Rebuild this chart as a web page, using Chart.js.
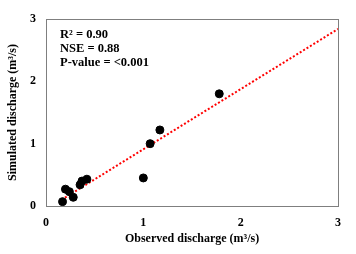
<!DOCTYPE html>
<html>
<head>
<meta charset="utf-8">
<script src="https://cdn.jsdelivr.net/npm/chart.js@4"></script>
<style>
  html, body { margin: 0; padding: 0; background: #fff; }
</style>
</head>
<body>
<canvas id="grafico" width="356" height="254"></canvas>
<script>
// observed vs simulated discharge (m3/s)
let observed = [0.17, 0.20, 0.24, 0.28, 0.35, 0.37, 0.42, 1.00, 1.07, 1.17, 1.78];
let simulated = [0.07, 0.27, 0.23, 0.14, 0.34, 0.40, 0.43, 0.45, 1.00, 1.22, 1.80];
// dotted trend line end points
let trendX = [0.16, 3.0];
let trendY = [0.10, 2.84];
let tickValues = [0, 1, 2, 3];
let stats = ['R² = 0.90', 'NSE = 0.88', 'P-value = <0.001'];

const serif = "'Liberation Serif', 'Times New Roman', serif";

const frame = {
  id: 'frame',
  afterDraw(chart) {
    const c = chart.ctx, a = chart.chartArea;
    c.save();
    c.strokeStyle = '#7f7f7f';
    c.lineWidth = 1;
    c.strokeRect(Math.round(a.left) + 0.5, Math.round(a.top) + 0.5,
      Math.round(a.right - a.left), Math.round(a.bottom - a.top));
    c.fillStyle = '#000';
    c.font = 'bold 12.5px ' + serif;
    c.textBaseline = 'middle';
    stats.forEach((s, i) => c.fillText(s, a.left + 14, a.top + 16 + i * 14));
    c.restore();
  }
};

const ctx = document.getElementById('grafico');
new Chart(ctx, {
  type: 'scatter',
  data: {
    datasets: [{
      data: observed.map((x, i) => ({ x: x, y: simulated[i] })),
      backgroundColor: '#000',
      borderColor: '#000',
      pointRadius: 4,
      order: 1
    }, {
      data: trendX.map((x, i) => ({ x: x, y: trendY[i] })),
      showLine: true,
      borderColor: '#ff0000',
      borderWidth: 2,
      borderDash: [2, 2],
      pointRadius: 0,
      order: 2
    }]
  },
  options: {
    responsive: false,
    animation: false,
    devicePixelRatio: 1,
    layout: { padding: { left: 0, right: 18, top: 19, bottom: 6 } },
    plugins: { legend: { display: false }, tooltip: { enabled: false } },
    scales: {
      x: {
        min: 0, max: 3,
        afterBuildTicks: s => { s.ticks = tickValues.map(v => ({ value: v })); },
        afterFit: s => { s.height = 42; },
        grid: { display: false },
        border: { display: false },
        ticks: { color: '#000', padding: 2, font: { family: serif, size: 12, weight: 'bold' } },
        title: { display: true, text: 'Observed discharge (m³/s)', color: '#000', padding: 2,
          font: { family: serif, size: 12, weight: 'bold' } }
      },
      y: {
        min: 0, max: 3,
        afterBuildTicks: s => { s.ticks = tickValues.map(v => ({ value: v })); },
        afterFit: s => { s.width = 46; },
        grid: { display: false },
        border: { display: false },
        ticks: { color: '#000', padding: 2, font: { family: serif, size: 12, weight: 'bold' } },
        title: { display: true, text: 'Simulated discharge (m³/s)', color: '#000', padding: 6,
          font: { family: serif, size: 12, weight: 'bold' } }
      }
    }
  },
  plugins: [frame]
});
</script>
</body>
</html>
